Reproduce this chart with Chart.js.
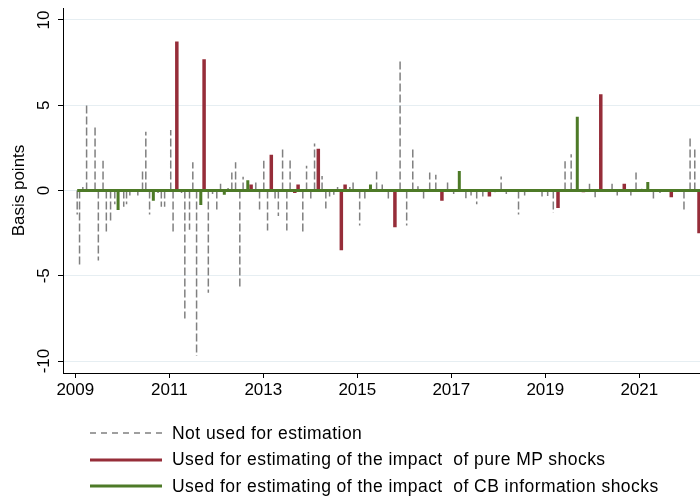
<!DOCTYPE html>
<html>
<head>
<meta charset="utf-8">
<script src="https://cdn.jsdelivr.net/npm/chart.js@4/dist/chart.umd.min.js"></script>
<style>
html,body{margin:0;padding:0;background:#fff;}
#wrap{position:relative;width:700px;height:498px;overflow:hidden;}
#c{position:absolute;left:0;top:0;}
#legend{position:absolute;left:90px;top:420px;font-family:"Liberation Sans",Arial,sans-serif;font-size:17.5px;letter-spacing:0.45px;color:#000;}
.row{display:flex;align-items:center;height:26px;white-space:pre;}
.row:nth-child(2){height:27px;}
.row svg{margin-right:10px;display:block;}
</style>
</head>
<body>
<div id="wrap">
<canvas id="c" width="700" height="498"></canvas>
<div id="legend">
  <div class="row"><svg width="72" height="4"><line x1="0" y1="2" x2="72" y2="2" stroke="#808080" stroke-width="1.5" stroke-dasharray="6,5"/></svg><span>Not used for estimation</span></div>
  <div class="row"><svg width="72" height="4"><line x1="0" y1="2" x2="72" y2="2" stroke="#962d39" stroke-width="3"/></svg><span>Used for estimating of the impact  of pure MP shocks</span></div>
  <div class="row"><svg width="72" height="4"><line x1="0" y1="2" x2="72" y2="2" stroke="#4d7a27" stroke-width="3"/></svg><span>Used for estimating of the impact  of CB information shocks</span></div>
</div>
</div>
<script>
// ---- data (decimal year, basis points) ----
const grayDates = [2009.04,2009.09,2009.16,2009.24,2009.42,2009.49,2009.59,2009.66,2009.75,2009.84,
  2010.03,2010.09,2010.16,2010.33,2010.43,2010.50,2010.58,2010.76,2010.83,2010.90,
  2011.03,2011.08,2011.26,2011.33,2011.43,2011.50,2011.58,2011.83,2011.92,
  2012.01,2012.09,2012.25,2012.33,2012.41,2012.50,2012.57,2012.84,2012.92,
  2013.01,2013.09,2013.25,2013.32,2013.41,2013.50,2013.57,2013.84,2013.92,
  2014.01,2014.09,2014.25,2014.33,2014.41,2014.50,2014.58,2014.84,2014.91,
  2015.05,2015.16,2015.41,2015.53,2015.66,2015.91,
  2016.05,2016.18,2016.29,2016.41,2016.54,2016.67,2016.92,
  2017.05,2017.31,2017.42,2017.54,2017.67,2017.93,
  2018.06,2018.17,2018.43,2018.56,2018.69,2018.93,
  2019.05,2019.17,2019.42,2019.55,2019.94,
  2020.06,2020.42,2020.53,2020.82,2020.93,
  2021.05,2021.30,2021.44,2021.55,2021.82,2021.95,
  2022.08,2022.18];
const grayValues = [-1.4,-4.4,0.2,5.15,3.85,-4.1,1.75,-2.5,-1.9,-0.8,
  -0.95,-0.8,-0.3,-0.3,1.15,3.45,-1.4,-0.15,-0.95,-0.95,
  3.55,-2.4,-0.15,-7.5,-2.3,1.65,-9.7,-6.0,-0.2,
  -1.15,0.4,0.15,1.05,1.65,-5.75,0.8,0.5,-1.15,
  1.75,-2.35,-0.55,-1.5,2.55,-2.35,1.8,-2.4,1.45,
  -0.65,2.75,0.85,-1.05,-0.35,-0.25,0.2,0.2,0.65,
  -2.05,-0.5,1.15,0.35,-0.55,7.65,
  -2.05,2.45,0.25,-0.5,1.05,0.92,0.55,
  -0.2,-0.45,-0.3,-0.8,-0.35,-0.1,
  0.82,-0.2,-1.4,-0.3,0.05,-0.35,
  -0.32,-1.3,1.72,2.12,0.4,
  -0.4,0.4,-0.3,-0.3,1.05,
  0.1,-0.52,-0.15,-0.08,0.05,-1.2,
  3.12,2.45];

const redDates  = [2011.16,2011.74,2012.74,2013.17,2013.67,2013.74,2014.17,2014.66,2014.74,
  2015.80,2016.80,2017.81,2019.27,2019.81,2020.18,2020.68,2021.68,2022.27];
const redValues = [8.73,7.7,0.35,2.1,-0.15,0.35,2.45,-3.5,0.35,
  -2.15,-0.6,-0.35,-1.02,-0.1,5.65,0.4,-0.4,-2.5];

const greenDates  = [2009.91,2010.66,2011.67,2012.17,2012.67,2015.28,2017.17,2019.68,2021.18];
const greenValues = [-1.15,-0.6,-0.85,-0.25,0.6,0.35,1.15,4.32,0.5];

const xTicks = [2009,2011,2013,2015,2017,2019,2021];
const yTicks = [-10,-5,0,5,10];
const X_MIN = 2008.738, X_MAX = 2022.291;
const Y_MIN = -10.7, Y_MAX = 10.7;

const GRAY = '#808080', RED = '#962d39', GREEN = '#4d7a27';
const FONT = {family: '"Liberation Sans", Arial, sans-serif', size: 17};

function spikes(dates, values) {
  const out = [];
  dates.forEach((d, i) => {
    out.push({x: d, y: 0});
    out.push({x: d, y: values[i]});
    out.push({x: d, y: null});
  });
  return out;
}
const firstDate = Math.min(grayDates[0], redDates[0], greenDates[0]);

const yLabelPlugin = {
  id: 'yLabels',
  afterDraw(chart) {
    const ctx = chart.ctx, s = chart.scales.y;
    ctx.save();
    ctx.font = FONT.size + 'px ' + FONT.family;
    ctx.fillStyle = '#000';
    ctx.textAlign = 'center';
    ctx.textBaseline = 'middle';
    yTicks.forEach(v => {
      const py = s.getPixelForValue(v);
      ctx.save();
      ctx.translate(s.right - 19, py);
      ctx.rotate(-Math.PI / 2);
      ctx.fillText(String(v), 0, 0);
      ctx.restore();
    });
    ctx.restore();
  }
};

new Chart(document.getElementById('c'), {
  type: 'line',
  data: {
    datasets: [
      {label: 'base', data: [{x: firstDate, y: 0}, {x: X_MAX, y: 0}], borderColor: GREEN, borderWidth: 3, order: 0},
      {label: 'green', data: spikes(greenDates, greenValues), borderColor: GREEN, borderWidth: 3, order: 1},
      {label: 'red', data: spikes(redDates, redValues), borderColor: RED, borderWidth: 3.5, order: 2},
      {label: 'gray', data: spikes(grayDates, grayValues), borderColor: GRAY, borderWidth: 1.5, borderDash: [8, 3], order: 3}
    ]
  },
  options: {
    responsive: false,
    animation: false,
    spanGaps: false,
    elements: {point: {radius: 0}, line: {tension: 0, borderCapStyle: 'butt'}},
    layout: {padding: {top: 8, left: 0, right: 0, bottom: 0}},
    plugins: {legend: {display: false}, tooltip: {enabled: false}},
    scales: {
      x: {
        type: 'linear', min: X_MIN, max: X_MAX,
        afterBuildTicks: s => { s.ticks = xTicks.map(v => ({value: v})); },
        afterFit: s => { s.height = 125; },
        ticks: {callback: v => String(v), font: FONT, color: '#000', padding: 2, maxRotation: 0, autoSkip: false},
        grid: {display: true, drawOnChartArea: false, drawTicks: true, tickLength: 5, tickColor: '#000'},
        border: {color: '#000', width: 1}
      },
      y: {
        min: Y_MIN, max: Y_MAX,
        afterBuildTicks: s => { s.ticks = yTicks.map(v => ({value: v})); },
        afterFit: s => { s.width = 63; },
        ticks: {display: false},
        grid: {color: '#e6eef2', lineWidth: 1, drawTicks: true, tickLength: 5, tickColor: '#000'},
        border: {color: '#000', width: 1},
        title: {display: true, text: 'Basis points', font: FONT, color: '#000', padding: {top: 9, bottom: 0}}
      }
    }
  },
  plugins: [yLabelPlugin]
});
</script>
</body>
</html>
